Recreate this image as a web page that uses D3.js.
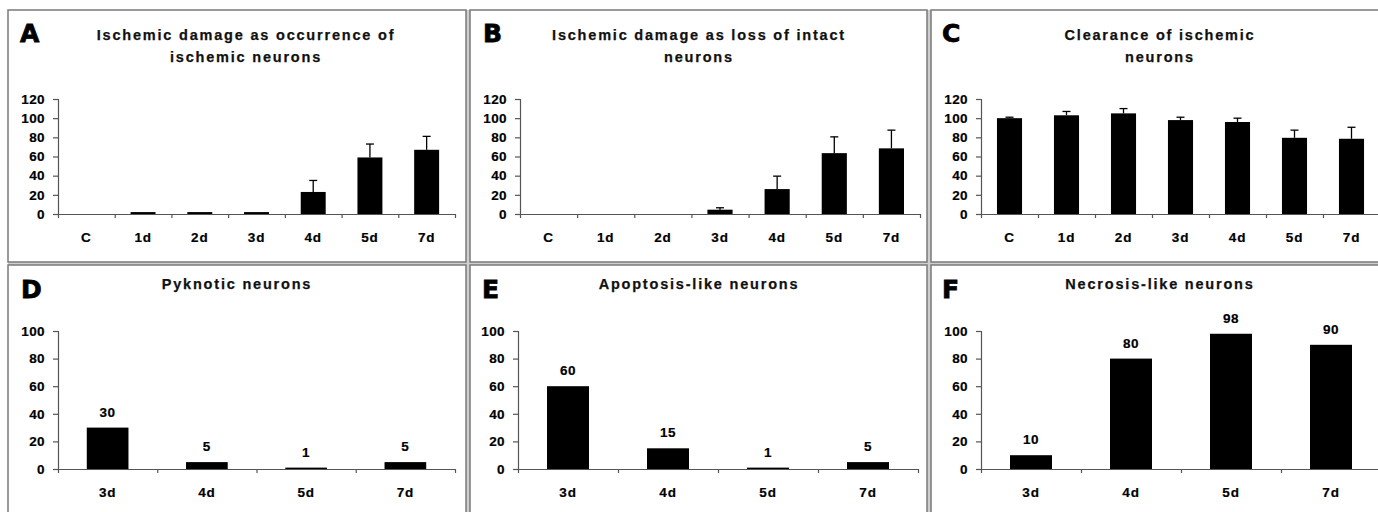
<!DOCTYPE html>
<html>
<head>
<meta charset="utf-8">
<script src="https://cdn.jsdelivr.net/npm/d3@7"></script>
<style>
	body { margin: 0; background: #fff; }
	svg { display: block; }
	text { font-family: "Liberation Sans", Arial, sans-serif; font-weight: bold; fill: #000; }
</style>
</head>
<body>
<div id="chart"></div>
<script>
// DATA
const daysTop = ["C", "1d", "2d", "3d", "4d", "5d", "7d"];
const occurrenceMean = [0, 2, 2, 2, 23, 59, 67];
const occurrenceErr = [0, 0, 0, 0, 12, 14, 14];
const lossMean = [0, 0, 0, 4.5, 26, 63.5, 68.5];
const lossErr = [0, 0, 0, 2, 13.5, 17, 19];
const clearanceMean = [100, 103, 105, 98, 96, 79.5, 78.5];
const clearanceErr = [1, 4, 5, 3, 4, 8, 12];
const ticksTop = [0, 20, 40, 60, 80, 100, 120];

const daysBottom = ["3d", "4d", "5d", "7d"];
const pyknotic = [30, 5, 1, 5];
const apoptosis = [60, 15, 1, 5];
const necrosis = [10, 80, 98, 90];
const ticksBottom = [0, 20, 40, 60, 80, 100];

const letters = ["A", "B", "C", "D", "E", "F"];
const titles = [
	["Ischemic damage as occurrence of", "ischemic neurons"],
	["Ischemic damage as loss of intact", "neurons"],
	["Clearance of ischemic", "neurons"],
	["Pyknotic neurons"],
	["Apoptosis-like neurons"],
	["Necrosis-like neurons"]
];

// layout of each panel (frame, plot area, title position)
const panels = [
	{ box: [8, 10, 458, 252], letterX: 20, letterY: 42, titleX: 246, titleY: 40, x0: 58, x1: 455, yZero: 214, yTop: 99, max: 120, cats: daysTop, values: occurrenceMean, err: occurrenceErr, ticks: ticksTop, barFrac: 0.44, labels: false },
	{ box: [470, 10, 457, 252], letterX: 483, letterY: 42, titleX: 699, titleY: 40, x0: 520, x1: 920, yZero: 214, yTop: 99, max: 120, cats: daysTop, values: lossMean, err: lossErr, ticks: ticksTop, barFrac: 0.44, labels: false },
	{ box: [931, 10, 460, 252], letterX: 942, letterY: 42, titleX: 1160, titleY: 40, x0: 981, x1: 1380, yZero: 214, yTop: 99, max: 120, cats: daysTop, values: clearanceMean, err: clearanceErr, ticks: ticksTop, barFrac: 0.44, labels: false },
	{ box: [8, 265, 458, 260], letterX: 21, letterY: 298, titleX: 237, titleY: 289, x0: 58, x1: 455, yZero: 469, yTop: 331, max: 100, cats: daysBottom, values: pyknotic, err: null, ticks: ticksBottom, barFrac: 0.42, labels: true },
	{ box: [470, 265, 457, 260], letterX: 482, letterY: 298, titleX: 699, titleY: 289, x0: 518, x1: 918, yZero: 469, yTop: 331, max: 100, cats: daysBottom, values: apoptosis, err: null, ticks: ticksBottom, barFrac: 0.42, labels: true },
	{ box: [931, 265, 460, 260], letterX: 942, letterY: 298, titleX: 1160, titleY: 289, x0: 981, x1: 1381, yZero: 469, yTop: 331, max: 100, cats: daysBottom, values: necrosis, err: null, ticks: ticksBottom, barFrac: 0.42, labels: true }
];

const svg = d3.select("#chart")
	.append("svg")
	.attr("width", 1378)
	.attr("height", 512);

svg.append("rect")
	.attr("width", 1378)
	.attr("height", 512)
	.attr("fill", "#fff");

// light gray gaps between the panels
svg.append("rect").attr("x", 466).attr("y", 10).attr("width", 4).attr("height", 510).attr("fill", "#cfcfcf");
svg.append("rect").attr("x", 927).attr("y", 10).attr("width", 4).attr("height", 510).attr("fill", "#cfcfcf");
svg.append("rect").attr("x", 8).attr("y", 262).attr("width", 1380).attr("height", 3).attr("fill", "#cfcfcf");

panels.forEach((p, i) => {
	const g = svg.append("g");

	g.append("rect")
		.attr("x", p.box[0])
		.attr("y", p.box[1])
		.attr("width", p.box[2])
		.attr("height", p.box[3])
		.attr("fill", "#fff")
		.attr("stroke", "#7a7a7a")
		.attr("stroke-width", 1.5);

	g.append("text")
		.attr("x", p.letterX)
		.attr("y", p.letterY)
		.style("font-family", "'DejaVu Sans', sans-serif")
		.style("font-size", "25px")
		.style("stroke", "#000")
		.style("stroke-width", 0.8)
		.text(letters[i]);

	titles[i].forEach((line, k) => {
		g.append("text")
			.attr("x", p.titleX)
			.attr("y", p.titleY + k * 22)
			.attr("text-anchor", "middle")
			.style("font-size", "14.5px")
			.style("letter-spacing", "1.8px")
			.style("fill", "#111")
			.style("stroke", "#111")
			.style("stroke-width", 0.25)
			.text(line);
	});

	const yScale = d3.scaleLinear()
		.domain([0, p.max])
		.range([p.yZero, p.yTop]);

	const xScale = d3.scaleBand()
		.domain(p.cats)
		.range([p.x0, p.x1])
		.padding(0);

	// bars
	const bw = xScale.bandwidth() * p.barFrac;
	g.selectAll(".bar")
		.data(p.values)
		.enter()
		.append("rect")
		.attr("x", (d, j) => xScale(p.cats[j]) + (xScale.bandwidth() - bw) / 2)
		.attr("y", d => yScale(d))
		.attr("width", bw)
		.attr("height", d => p.yZero - yScale(d))
		.attr("fill", "#000");

	// upper error bars
	if (p.err) {
		p.values.forEach((d, j) => {
			if (!p.err[j]) return;
			const cx = xScale(p.cats[j]) + xScale.bandwidth() / 2;
			g.append("line")
				.attr("x1", cx).attr("x2", cx)
				.attr("y1", yScale(d)).attr("y2", yScale(d + p.err[j]))
				.attr("stroke", "#000").attr("stroke-width", 1.3);
			g.append("line")
				.attr("x1", cx - 4).attr("x2", cx + 4)
				.attr("y1", yScale(d + p.err[j])).attr("y2", yScale(d + p.err[j]))
				.attr("stroke", "#000").attr("stroke-width", 1.3);
		});
	}

	// value labels
	if (p.labels) {
		g.selectAll(".val")
			.data(p.values)
			.enter()
			.append("text")
			.attr("x", (d, j) => xScale(p.cats[j]) + xScale.bandwidth() / 2)
			.attr("y", d => yScale(d) - 11)
			.attr("text-anchor", "middle")
			.style("font-size", "13.5px")
			.style("letter-spacing", "0.6px")
			.style("stroke", "#000")
			.style("stroke-width", 0.2)
			.text(d => d);
	}

	// y axis
	const yAxis = d3.axisLeft(yScale)
		.tickValues(p.ticks)
		.tickSize(5)
		.tickPadding(8);

	const ya = g.append("g")
		.attr("transform", `translate(${p.x0}, 0)`)
		.call(yAxis);
	ya.select(".domain").attr("stroke", "#555").attr("stroke-width", 1.2);
	ya.selectAll(".tick line").attr("stroke", "#555").attr("stroke-width", 1.2);
	ya.selectAll("text")
		.style("font-family", "'Liberation Sans', Arial, sans-serif")
		.style("font-weight", "bold")
		.style("font-size", "13.5px")
		.style("letter-spacing", "0.4px")
		.style("stroke", "#000")
		.style("stroke-width", 0.2)
		.attr("fill", "#000");

	// x axis: tick marks on band boundaries
	const edges = d3.scaleLinear()
		.domain([0, p.cats.length])
		.range([p.x0, p.x1]);

	const xe = g.append("g")
		.attr("transform", `translate(0, ${p.yZero})`)
		.call(d3.axisBottom(edges).tickValues(d3.range(p.cats.length + 1)).tickSize(4).tickSizeOuter(0).tickFormat(""));
	xe.select(".domain").attr("stroke", "#555").attr("stroke-width", 1.2);
	xe.selectAll(".tick line").attr("stroke", "#555").attr("stroke-width", 1.2);

	// x axis labels
	const xl = g.append("g")
		.attr("transform", `translate(0, ${p.yZero})`)
		.call(d3.axisBottom(xScale).tickSize(0).tickPadding(18));
	xl.select(".domain").remove();
	xl.selectAll("text")
		.style("font-family", "'Liberation Sans', Arial, sans-serif")
		.style("font-weight", "bold")
		.style("font-size", "13.5px")
		.style("letter-spacing", "0.8px")
		.style("stroke", "#000")
		.style("stroke-width", 0.2)
		.attr("fill", "#000");
});
</script>
</body>
</html>
